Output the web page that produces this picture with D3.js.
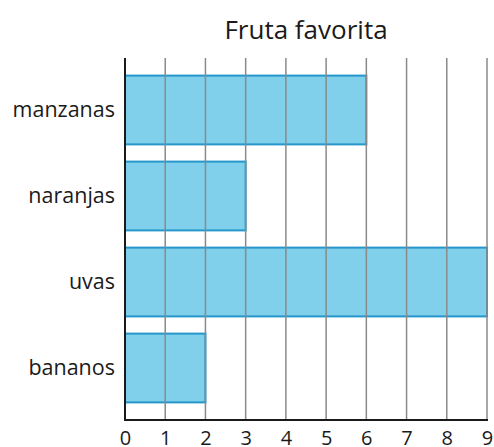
<!DOCTYPE html>
<html>
<head>
<meta charset="utf-8">
<script src="https://cdn.jsdelivr.net/npm/d3@7"></script>
<style>
  body { margin: 0; background: #fff; }
  text { font-family: "Open Sans", sans-serif; fill: #1a1a1a; }
</style>
</head>
<body>
<svg></svg>
<script>
let fruits = ["manzanas", "naranjas", "uvas", "bananos"]
let counts = [6, 3, 9, 2]
let ticks = [0, 1, 2, 3, 4, 5, 6, 7, 8, 9]

let width = 494
let height = 447
let plotLeft = 125
let plotRight = 487
let plotTop = 58
let plotBottom = 420

let svg = d3.select("svg")
    .attr("width", width)
    .attr("height", height)

let xScale = d3.scaleLinear()
    .domain([0, 9])
    .range([plotLeft, plotRight])

let yScale = d3.scaleBand()
    .domain(fruits)
    .range([67, 411])
    .paddingInner(0.2)
    .paddingOuter(0.1)

// bars
svg.selectAll("rect.bar")
    .data(fruits)
    .enter()
    .append("rect")
    .attr("class", "bar")
    .attr("x", xScale(0))
    .attr("y", (d) => yScale(d))
    .attr("width", (d, i) => xScale(counts[i]) - xScale(0))
    .attr("height", yScale.bandwidth())
    .attr("fill", "#80d0ec")
    .attr("stroke", "#2696cb")
    .attr("stroke-width", 2)

// grid lines over the bars
svg.selectAll("line.grid")
    .data(ticks.slice(1))
    .enter()
    .append("line")
    .attr("class", "grid")
    .attr("x1", (d) => xScale(d))
    .attr("x2", (d) => xScale(d))
    .attr("y1", plotTop)
    .attr("y2", plotBottom)
    .attr("stroke", "#8a8a8a")
    .attr("stroke-width", 1.5)

// x axis
let xAxis = d3.axisBottom(xScale)
    .tickValues(ticks)
    .tickSize(0)
    .tickPadding(11)
    .tickFormat(d3.format("d"))

let gx = svg.append("g")
    .attr("transform", "translate(0," + plotBottom + ")")
    .call(xAxis)
gx.select(".domain").remove()
gx.selectAll("text").style("font-size", "20px").attr("fill", "#1a1a1a")

// y axis labels
let yAxis = d3.axisLeft(yScale)
    .tickSize(0)
    .tickPadding(10)

let gy = svg.append("g")
    .attr("transform", "translate(" + plotLeft + ",0)")
    .call(yAxis)
gy.select(".domain").remove()
gy.selectAll("text").style("font-size", "21.5px").attr("fill", "#1a1a1a")

// axis lines
svg.append("line")
    .attr("x1", plotLeft).attr("x2", plotLeft)
    .attr("y1", plotTop).attr("y2", plotBottom + 1)
    .attr("stroke", "#1a1a1a").attr("stroke-width", 2)
svg.append("line")
    .attr("x1", plotLeft - 1).attr("x2", plotRight + 1)
    .attr("y1", plotBottom).attr("y2", plotBottom)
    .attr("stroke", "#1a1a1a").attr("stroke-width", 2)

// title
svg.append("text")
    .attr("x", (plotLeft + plotRight) / 2)
    .attr("y", 39)
    .attr("text-anchor", "middle")
    .style("font-size", "26px")
    .text("Fruta favorita")
</script>
</body>
</html>
